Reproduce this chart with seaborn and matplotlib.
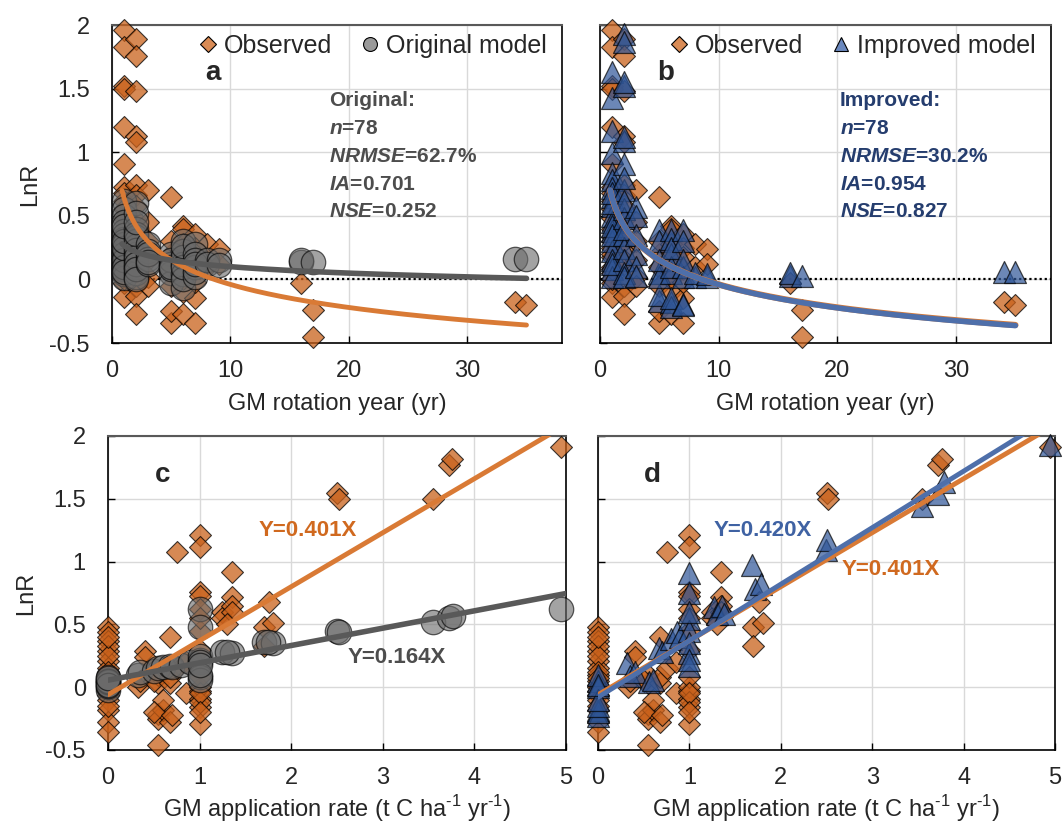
import numpy as np
import matplotlib
matplotlib.use("Agg")
import matplotlib.pyplot as plt
from matplotlib.lines import Line2D
import seaborn as sns

sns.set_theme(style="white")
plt.rcParams['font.family'] = ['Liberation Sans', 'DejaVu Sans']
plt.rcParams['mathtext.fontset'] = 'custom'
plt.rcParams['mathtext.rm'] = 'Liberation Sans'
plt.rcParams['mathtext.bfit'] = 'Liberation Sans:bold:italic'

# ---------------- data ----------------
# top row: GM rotation year vs LnR
obs_year = [1]*23 + [2]*17 + [3]*6 + [5]*7 + [6]*9 + [7]*7 + [8]*2 + [9]*2 + [16] + [17]*2 + [34, 35]
obs_lnr_top = [1.96, 1.83, 1.52, 1.50, 1.20, 0.91, 0.73, 0.68, 0.62, 0.55, 0.48, 0.40, 0.33, 0.25, 0.18,
               0.10, 0.05, -0.03, -0.14, 0.00, 0.30, 0.20, 0.08,
               1.89, 1.76, 1.48, 1.13, 1.08, 0.74, 0.66, 0.58, 0.47, 0.35, 0.22, 0.12, -0.05, -0.13, -0.27, 0.30, 0.15,
               0.70, 0.45, 0.30, 0.15, 0.02, -0.05,
               0.65, 0.20, 0.10, -0.05, -0.34, -0.25, 0.30,
               0.42, 0.40, 0.15, 0.05, -0.27, -0.10, 0.28, 0.00, 0.22,
               0.36, 0.25, -0.15, -0.34, 0.08, -0.02, 0.18,
               0.28, 0.10,
               0.24, 0.12,
               -0.03,
               -0.24, -0.45,
               -0.18, -0.20]

orig_year = [1]*22 + [2]*18 + [3]*6 + [5]*7 + [6]*9 + [7]*7 + [8]*2 + [9]*2 + [16]*2 + [17] + [34, 35]
orig_lnr_top = [0.62, 0.55, 0.50, 0.45, 0.38, 0.32, 0.27, 0.22, 0.17, 0.12, 0.08, 0.04, 0.01, 0.35, 0.28,
                0.20, 0.15, 0.10, 0.25, 0.30, 0.42, 0.06,
                0.60, 0.52, 0.40, 0.33, 0.26, 0.20, 0.15, 0.10, 0.05, 0.02, 0.30, 0.23, 0.18, 0.12, 0.08,
                0.36, 0.45, 0.00,
                0.28, 0.22, 0.16, 0.12, 0.20, 0.14,
                0.20, 0.12, 0.05, -0.03, 0.15, 0.08, 0.10,
                0.30, 0.22, 0.12, 0.04, -0.07, 0.18, 0.00, 0.10, 0.26,
                0.28, 0.20, 0.10, 0.02, 0.15, 0.06, 0.12,
                0.15, 0.12,
                0.15, 0.11,
                0.14, 0.15,
                0.14,
                0.16, 0.16]

impr_year = [1]*22 + [2]*18 + [3]*6 + [5]*7 + [6]*9 + [7]*7 + [8]*2 + [9]*2 + [16]*2 + [17] + [34, 35]
impr_lnr_top = [1.63, 1.43, 1.17, 0.99, 0.84, 0.78, 0.72, 0.65, 0.58, 0.50, 0.45, 0.38, 0.30, 0.22, 0.15,
                0.08, 0.02, 0.60, 0.42, 0.12, 0.35, 0.68,
                1.93, 1.87, 1.52, 1.55, 1.09, 1.12, 0.91, 0.70, 0.55, 0.48, 0.35, 0.25, 0.15, 0.05, 0.02,
                0.40, 0.62, 0.80,
                0.57, 0.50, 0.35, 0.20, 0.10, 0.03,
                0.39, 0.30, 0.05, -0.17, -0.12, 0.02, 0.15,
                0.39, 0.32, 0.20, 0.05, -0.18, -0.22, -0.15, 0.10, 0.25,
                0.39, 0.30, 0.10, -0.19, -0.20, 0.02, 0.15,
                0.02, 0.05,
                0.02, 0.04,
                0.03, 0.05,
                0.03,
                0.06, 0.06]

# bottom row: GM application rate vs LnR
obs_rate = [0]*22 + [0.33, 0.40, 0.40, 0.35] + [0.55]*5 + [0.60]*2 + [0.50]*2 + [0.675]*4 + [0.70] + \
           [0.75]*2 + [0.85]*2 + [1]*17 + [1.25]*2 + [1.35]*4 + [1.30] + [1.70]*2 + [1.76, 1.80] + \
           [2.50, 2.52] + [3.55, 3.72, 3.76] + [4.95]
obs_lnr_bot = [0.48, 0.44, 0.37, 0.29, 0.21, 0.15, 0.10, 0.05, 0.02, 0.00, -0.03, -0.06, -0.10, -0.18,
               -0.28, -0.36, 0.33, 0.25, 0.40, 0.12, -0.15, 0.07,
               0.00, 0.29, 0.24, 0.05,
               -0.46, -0.21, -0.25, 0.03, 0.10,
               -0.18, -0.10,
               -0.20, 0.05,
               0.40, -0.28, 0.03, 0.08,
               -0.22,
               1.08, 0.15,
               0.20, -0.05,
               1.21, 1.12, 0.76, 0.73, 0.62, 0.45, -0.09, -0.16, -0.29, -0.03, 0.00, 0.08, -0.12,
               0.30, -0.05, -0.20, 0.55,
               0.60, 0.55,
               0.92, 0.72, 0.65, 0.60,
               0.50,
               0.48, 0.33,
               0.68, 0.51,
               1.55, 1.50,
               1.50, 1.77, 1.82,
               1.91]

orig_rate = [0]*10 + [0.33, 0.35, 0.50, 0.55, 0.60, 0.675, 0.70, 0.80, 0.90] + [1]*9 + \
            [1.25, 1.35, 1.30] + [1.70, 1.80, 1.75] + [2.50, 2.52] + [3.55, 3.72, 3.77] + [4.95]
orig_lnr_bot = [0.00, 0.03, 0.06, 0.08, -0.02, 0.01, 0.04, 0.05, 0.02, 0.07,
                0.10, 0.12, 0.13, 0.15, 0.16, 0.17, 0.16, 0.18, 0.20,
                0.62, 0.48, 0.22, 0.25, 0.20, 0.08, 0.06, 0.10, 0.18,
                0.28, 0.27, 0.28,
                0.36, 0.35, 0.36,
                0.45, 0.44,
                0.52, 0.55, 0.57,
                0.62]

impr_rate = [0]*9 + [0.32, 0.35, 0.40, 0.56, 0.60, 0.67, 0.70, 0.80, 0.86, 0.90] + [1]*9 + \
            [1.27, 1.30, 1.36, 1.38] + [1.69, 1.72, 1.78] + [2.49, 2.51] + [3.54, 3.72, 3.79] + [4.95]
impr_lnr_bot = [-0.18, -0.23, -0.20, -0.15, 0.05, 0.10, 0.00, -0.10, 0.02,
                0.19, 0.09, 0.12, 0.04, 0.06, 0.31, 0.28, 0.38, 0.44, 0.40,
                0.91, 0.75, 0.54, 0.45, 0.27, 0.17, 0.35, 0.22, 0.60,
                0.64, 0.58, 0.65, 0.58,
                0.97, 0.78, 0.82,
                1.09, 1.17,
                1.44, 1.54, 1.63,
                1.93]

# trend curves
# top row: y = a*ln(x)^2 + b*ln(x) + c
trend_obs_top = (0.012, -0.325, 0.645)
trend_orig_top = (0.0, -0.073, 0.268)
trend_impr_top = (0.012, -0.327, 0.648)
# bottom row: y = slope*x + intercept
trend_obs_bot = (0.43, -0.06)
trend_orig_bot = (0.138, 0.056)
trend_impr_bot = (0.45, -0.08)

stats_orig = ["Original:", "n=78", "NRMSE=62.7%", "IA=0.701", "NSE=0.252"]
stats_impr = ["Improved:", "n=78", "NRMSE=30.2%", "IA=0.954", "NSE=0.827"]

yticks = [-0.5, 0, 0.5, 1, 1.5, 2]
ytick_labels = ["-0.5", "0", "0.5", "1", "1.5", "2"]

# ---------------- style ----------------
ORANGE = "#C9611B"
ORANGE_LINE = "#D97A35"
GRAY = "#6B6B6B"
GRAY_LINE = "#595959"
BLUE = "#2E5597"
BLUE_LINE = "#4E6FAA"
GRAY_TXT = "#4D4D4D"
NAVY_TXT = "#253D6E"
FS = 17

W, H = 1063, 832
fig = plt.figure(figsize=(W / 100, H / 100), dpi=100)


def make_ax(l, r, t, b):
    return fig.add_axes([l / W, 1 - b / H, (r - l) / W, (b - t) / H])


ax_a = make_ax(112, 562, 25, 343)
ax_b = make_ax(600, 1051, 25, 343)
ax_c = make_ax(108, 566, 436, 750)
ax_d = make_ax(598, 1055, 436, 750)


def style(ax, xticks, xlim, show_y):
    ax.set_xlim(*xlim)
    ax.set_ylim(-0.5, 2)
    ax.set_xticks(xticks)
    ax.set_xticklabels([str(v) for v in xticks])
    ax.set_yticks(yticks)
    ax.set_yticklabels(ytick_labels if show_y else [])
    ax.grid(True, color="#D9D9D9", lw=1)
    ax.set_axisbelow(True)
    ax.tick_params(direction="in", length=5, width=1, color="black", labelsize=FS,
                   bottom=True, left=True)
    ax.tick_params(axis="x", pad=12)
    ax.tick_params(axis="y", pad=16)
    for s in ["left", "bottom", "right"]:
        ax.spines[s].set_color("black")
        ax.spines[s].set_linewidth(1.2)
    ax.spines["top"].set_color("#595959")
    ax.spines["top"].set_linewidth(1.5)
    if show_y:
        ax.set_ylabel("LnR", fontsize=FS, labelpad=6)


def scat(ax, x, y, kind):
    if kind == "obs":
        sns.scatterplot(x=x, y=y, ax=ax, marker="D", s=125, color=ORANGE, edgecolor="black",
                        linewidth=0.8, alpha=0.75, clip_on=False, zorder=3)
    elif kind == "orig":
        sns.scatterplot(x=x, y=y, ax=ax, marker="o", s=310, color=GRAY, edgecolor="black",
                        linewidth=0.9, alpha=0.62, clip_on=False, zorder=4)
    else:
        sns.scatterplot(x=x, y=y, ax=ax, marker="^", s=250, color=BLUE, edgecolor="black",
                        linewidth=0.9, alpha=0.7, clip_on=False, zorder=4)


def log_curve(ax, coef, color, lw, z):
    xs = np.linspace(0.85, 35, 200)
    L = np.log(xs)
    sns.lineplot(x=xs, y=coef[0] * L ** 2 + coef[1] * L + coef[2], ax=ax, color=color, lw=lw, zorder=z)


def lin_line(ax, coef, color, lw, z):
    xs = np.array([0, 5.2])
    sns.lineplot(x=xs, y=coef[0] * xs + coef[1], ax=ax, color=color, lw=lw, zorder=z)


rate_label = "GM application rate (t C ha$^{\u2010 1}$ yr$^{\u2010 1}$)"

# ---- panel a ----
style(ax_a, [0, 10, 20, 30], (0, 38), True)
ax_a.axhline(0, color="black", ls=(0, (1, 1.3)), lw=1.6, zorder=2)
scat(ax_a, obs_year, obs_lnr_top, "obs")
scat(ax_a, orig_year, orig_lnr_top, "orig")
log_curve(ax_a, trend_obs_top, ORANGE_LINE, 3.5, 5)
log_curve(ax_a, trend_orig_top, GRAY_LINE, 4, 5)
ax_a.set_xlabel("GM rotation year (yr)", fontsize=FS, labelpad=8)

# ---- panel b ----
style(ax_b, [0, 10, 20, 30], (0, 38), False)
ax_b.axhline(0, color="black", ls=(0, (1, 1.3)), lw=1.6, zorder=2)
scat(ax_b, obs_year, obs_lnr_top, "obs")
scat(ax_b, impr_year, impr_lnr_top, "impr")
log_curve(ax_b, trend_obs_top, ORANGE_LINE, 4.5, 5)
log_curve(ax_b, trend_impr_top, BLUE_LINE, 4, 6)
ax_b.set_xlabel("GM rotation year (yr)", fontsize=FS, labelpad=8)

# ---- panel c ----
style(ax_c, [0, 1, 2, 3, 4, 5], (0, 5), True)
scat(ax_c, obs_rate, obs_lnr_bot, "obs")
scat(ax_c, orig_rate, orig_lnr_bot, "orig")
lin_line(ax_c, trend_obs_bot, ORANGE_LINE, 3.5, 5)
lin_line(ax_c, trend_orig_bot, GRAY_LINE, 4, 5)
ax_c.set_xlabel(rate_label, fontsize=FS, labelpad=3)

# ---- panel d ----
style(ax_d, [0, 1, 2, 3, 4, 5], (0, 5), False)
scat(ax_d, obs_rate, obs_lnr_bot, "obs")
scat(ax_d, impr_rate, impr_lnr_bot, "impr")
lin_line(ax_d, trend_obs_bot, ORANGE_LINE, 3.5, 5)
lin_line(ax_d, trend_impr_bot, BLUE_LINE, 3.5, 5)
ax_d.set_xlabel(rate_label, fontsize=FS, labelpad=3)

# ---- panel letters ----
for ax, letter, xy in [(ax_a, "a", (0.225, 0.85)), (ax_b, "b", (0.145, 0.85)),
                       (ax_c, "c", (0.12, 0.876)), (ax_d, "d", (0.12, 0.876))]:
    ax.text(*xy, letter, transform=ax.transAxes, fontsize=20, fontweight="bold",
            ha="center", va="center", zorder=10)


# ---- statistics text ----
def stats_block(ax, lines, x0, color):
    ys = [0.764, 0.676, 0.585, 0.497, 0.412]
    for i, (line, y) in enumerate(zip(lines, ys)):
        if i == 0:
            txt = line
        else:
            name, val = line.split("=")
            txt = r"$\mathbfit{" + name + "}$=" + val
        ax.text(x0, y, txt, transform=ax.transAxes, fontsize=15, fontweight="bold",
                color=color, ha="left", va="center", zorder=10)


stats_block(ax_a, stats_orig, 0.482, GRAY_TXT)
stats_block(ax_b, stats_impr, 0.532, NAVY_TXT)

# ---- equation labels ----
ax_c.text(0.328, 0.70, "Y=0.401X", transform=ax_c.transAxes, fontsize=16, fontweight="bold",
          color="#D0691F", va="center", zorder=10)
ax_c.text(0.524, 0.293, "Y=0.164X", transform=ax_c.transAxes, fontsize=16, fontweight="bold",
          color=GRAY_TXT, va="center", zorder=10)
ax_d.text(0.252, 0.70, "Y=0.420X", transform=ax_d.transAxes, fontsize=16, fontweight="bold",
          color="#3F62A3", va="center", zorder=10)
ax_d.text(0.534, 0.576, "Y=0.401X", transform=ax_d.transAxes, fontsize=16, fontweight="bold",
          color="#D0691F", va="center", zorder=10)

# ---- legends ----
h_obs = Line2D([], [], marker="D", ls="none", ms=8, mfc="#D98B55", mec="black", mew=0.8)
h_orig = Line2D([], [], marker="o", ls="none", ms=10, mfc="#9A9A9A", mec="black", mew=0.8)
h_impr = Line2D([], [], marker="^", ls="none", ms=10, mfc="#6A88BE", mec="black", mew=0.8)
ax_a.legend([h_obs, h_orig], ["Observed", "Original model"], loc="upper right",
            bbox_to_anchor=(1.0, 1.02), ncol=2, frameon=False, fontsize=18,
            handletextpad=0.05, columnspacing=0.9, borderaxespad=0.2, handlelength=1.2)
ax_b.legend([h_obs, h_impr], ["Observed", "Improved model"], loc="upper right",
            bbox_to_anchor=(1.0, 1.02), ncol=2, frameon=False, fontsize=18,
            handletextpad=0.05, columnspacing=0.9, borderaxespad=0.2, handlelength=1.2)

fig.savefig("out.png", dpi=100)
